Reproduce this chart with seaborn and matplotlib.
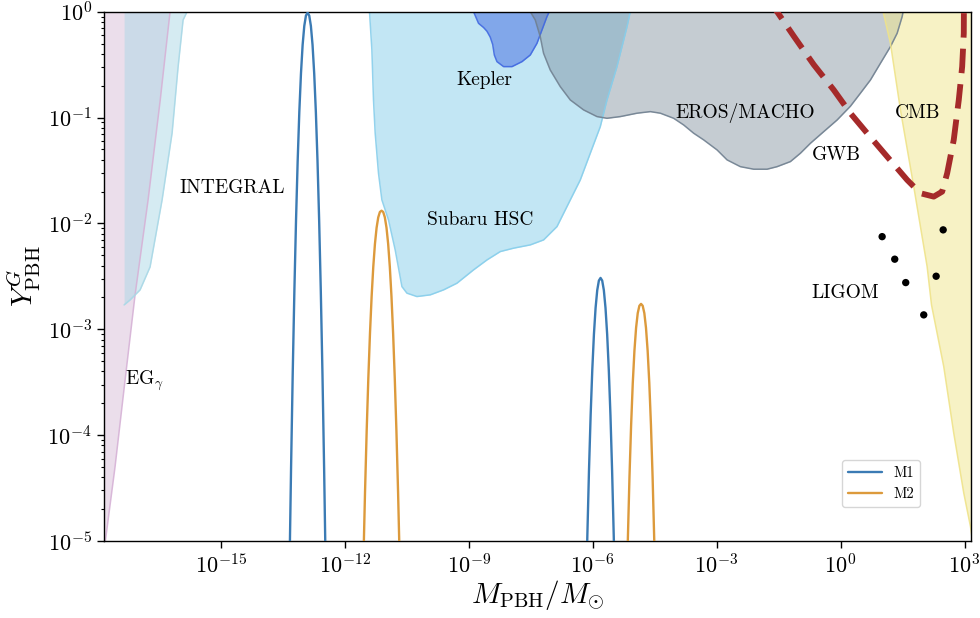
import numpy as np
import pandas as pd
import matplotlib
matplotlib.use("Agg")
import matplotlib.pyplot as plt
from matplotlib import ticker
import seaborn as sns

# ------------------------------------------------------------------
# Data (log10 values)
# ------------------------------------------------------------------
# M1 mass function, first peak
m1_a_logM = [-13.34, -13.30, -13.26, -13.22, -13.18, -13.14, -13.10, -13.06, -13.02, -12.98, -12.94,
             -12.90,
             -12.86, -12.82, -12.78, -12.74, -12.70, -12.66, -12.62, -12.58, -12.54, -12.50, -12.46]
m1_a_logY = [-5.32, -4.312, -3.421, -2.643, -1.974, -1.409, -0.946, -0.583, -0.314, -0.135, -0.037,
             -0.01,
             -0.037, -0.135, -0.314, -0.583, -0.946, -1.409, -1.974, -2.643, -3.421, -4.312, -5.32]
# M1 mass function, second peak
m1_b_logM = [-6.17, -6.13, -6.09, -6.05, -6.01, -5.97, -5.93, -5.89, -5.85,
             -5.81,
             -5.77, -5.73, -5.69, -5.65, -5.61, -5.57, -5.53, -5.49, -5.45]
m1_b_logY = [-5.683, -4.960, -4.339, -3.814, -3.385, -3.047, -2.798, -2.631, -2.540,
             -2.515,
             -2.540, -2.631, -2.798, -3.047, -3.385, -3.814, -4.339, -4.960, -5.683]
# M2 mass function, first peak
m2_a_logM = [-11.55, -11.51, -11.47, -11.43, -11.39, -11.35, -11.31, -11.27, -11.23, -11.19, -11.15,
             -11.11,
             -11.07, -11.03, -10.99, -10.95, -10.91, -10.87, -10.83, -10.79, -10.75, -10.71, -10.67]
m2_a_logY = [-5.201, -4.540, -3.961, -3.463, -3.039, -2.689, -2.409, -2.194, -2.041, -1.943, -1.892,
             -1.88,
             -1.892, -1.943, -2.041, -2.194, -2.409, -2.689, -3.039, -3.463, -3.961, -4.540, -5.201]
# M2 mass function, second peak
m2_b_logM = [-5.19, -5.15, -5.11, -5.07, -5.03, -4.99, -4.95, -4.91, -4.87,
             -4.83,
             -4.79, -4.75, -4.71, -4.67, -4.63, -4.59, -4.55, -4.51, -4.47]
m2_b_logY = [-5.702, -4.997, -4.398, -3.904, -3.508, -3.204, -2.987, -2.848, -2.778,
             -2.76,
             -2.778, -2.848, -2.987, -3.204, -3.508, -3.904, -4.398, -4.997, -5.702]

# Constraint boundaries (excluded region lies above each curve)
eg_logM = [-18.3, -17.794, -17.56, -17.317, -17.075, -16.76, -16.466, -16.228, -16.05]
eg_logY = [-6.5, -5.0, -4.30, -3.48, -2.675, -1.778, -0.834, 0.0, 0.6]

integral_logM = [-17.341, -17.196, -16.954, -16.712, -16.421, -16.179, -16.034, -15.913, -15.816, -15.75]
integral_logY = [-2.770, -2.723, -2.628, -2.411, -1.778, -1.146, -0.522, -0.078, 0.0, 0.3]

subaru_logM = [-11.42, -11.402, -11.344, -11.305, -11.264, -11.184, -11.102, -10.942, -10.780, -10.617,
               -10.496, -10.254, -9.932, -9.610, -9.286, -8.884, -8.559, -8.237, -7.915, -7.511,
               -7.189, -6.864, -6.542, -6.300, -6.058, -5.816, -5.654, -5.412, -5.169, -5.090, -5.06]
subaru_logY = [0.2, 0.0, -0.362, -0.834, -1.148, -1.526, -1.778, -1.967, -2.250, -2.597,
               -2.659, -2.691, -2.675, -2.628, -2.565, -2.439, -2.345, -2.266, -2.234, -2.203,
               -2.156, -2.030, -1.778, -1.589, -1.337, -1.086, -0.834, -0.519, -0.142, 0.0, 0.2]

kepler_logM = [-8.90, -8.884, -8.763, -8.640, -8.559, -8.480, -8.420, -8.380, -8.317, -8.157, -7.954,
               -7.712, -7.511, -7.349, -7.228, -7.107, -7.051, -7.03]
kepler_logY = [0.2, 0.0, -0.110, -0.150, -0.185, -0.240, -0.310, -0.410, -0.472, -0.519, -0.519,
               -0.472, -0.409, -0.299, -0.173, -0.047, 0.0, 0.2]

eros_logM = [-7.56, -7.511, -7.390, -7.269, -7.189, -7.027, -6.785, -6.542, -6.220, -5.896, -5.654,
             -5.332, -4.927, -4.605, -4.363, -4.041, -3.799, -3.557, -3.315, -2.990, -2.748,
             -2.426, -2.104, -1.780, -1.538, -1.215, -0.973, -0.731, -0.409, -0.085, 0.237,
             0.479, 0.722, 0.964, 1.206, 1.368, 1.489, 1.513, 1.53]
eros_logY = [0.2, 0.0, -0.078, -0.236, -0.393, -0.551, -0.708, -0.834, -0.928, -0.991, -1.007,
             -0.991, -0.959, -0.944, -0.959, -1.007, -1.070, -1.148, -1.211, -1.306, -1.400,
             -1.464, -1.488, -1.488, -1.464, -1.416, -1.337, -1.243, -1.133, -1.023, -0.893,
             -0.770, -0.645, -0.487, -0.330, -0.204, -0.047, 0.0, 0.2]

cmb_logM = [0.97, 1.029, 1.206, 1.448, 1.770, 2.094, 2.200, 2.496, 2.738, 2.981, 3.143, 3.40]
cmb_logY = [0.2, 0.0, -0.299, -0.928, -1.652, -2.408, -2.770, -3.352, -3.981, -4.548, -4.863, -5.60]

gwb_logM = [-1.83, -1.538, -1.136, -0.651, -0.167, 0.237, 0.642, 1.126, 1.610, 1.932, 2.254,
            2.458, 2.579, 2.738, 2.860, 2.942, 2.981, 2.985]
gwb_logY = [0.15, 0.0, -0.230, -0.500, -0.739, -0.959, -1.148, -1.369, -1.589, -1.715, -1.747,
            -1.700, -1.526, -1.211, -0.834, -0.519, -0.204, 0.15]

ligo_logM = [1.005, 1.310, 1.576, 2.012, 2.482, 2.312]
ligo_logY = [-2.125, -2.338, -2.559, -2.864, -2.061, -2.499]

region_labels = ["INTEGRAL", "Kepler", "Subaru HSC", "EROS/MACHO", "GWB", "CMB", "LIGOM"]
label_logM = [-14.714, -8.625, -8.722, -2.317, -0.102, 1.860, 0.116]
label_logY = [-1.709, -0.693, -2.014, -1.004, -1.400, -1.007, -2.706]
eg_label = r"EG$_\gamma$"
eg_label_logM, eg_label_logY = -17.315, -3.525

x_tick_exponents = [-15, -12, -9, -6, -3, 0, 3]
y_tick_exponents = [-5, -4, -3, -2, -1, 0]

# ------------------------------------------------------------------
# Style
# ------------------------------------------------------------------
sns.set_style("ticks")
plt.rcParams.update({
    "font.family": "cmr10",
    "mathtext.fontset": "cm",
    "axes.formatter.use_mathtext": True,
    "axes.edgecolor": "black",
    "axes.linewidth": 1.0,
    "xtick.color": "black",
    "ytick.color": "black",
    "text.color": "black",
    "axes.labelcolor": "black",
    "xtick.direction": "out",
    "ytick.direction": "out",
})

fig = plt.figure(figsize=(9.8, 6.18), dpi=100)
ax = fig.add_axes([0.106, 0.1246, 0.885, 0.8565])
ax.set_xscale("log")
ax.set_yscale("log")

p = lambda v: np.power(10.0, np.asarray(v, dtype=float))

# constraint regions
regions = [
    (eg_logM, eg_logY, "thistle", 0.5, "#d6b2d6"),
    (integral_logM, integral_logY, "lightblue", 0.5, "#a9d8e6"),
    (subaru_logM, subaru_logY, "skyblue", 0.5, "#87ceeb"),
    (kepler_logM, kepler_logY, "royalblue", 0.5, "royalblue"),
    (eros_logM, eros_logY, "slategray", 0.4, "slategray"),
    (cmb_logM, cmb_logY, "khaki", 0.5, "#efe38a"),
]
for lm, ly, col, a, ecol in regions:
    ax.fill_between(p(lm), p(ly), 1e3, color=col, alpha=a, lw=0, zorder=1)
    ax.plot(p(lm), p(ly), color=ecol, lw=1.1, alpha=0.9, zorder=1.5)

# mass functions
rows = []
for series, unit, lm, ly in [("M1", "a", m1_a_logM, m1_a_logY), ("M1", "b", m1_b_logM, m1_b_logY),
                             ("M2", "a", m2_a_logM, m2_a_logY), ("M2", "b", m2_b_logM, m2_b_logY)]:
    for xm, yv in zip(lm, ly):
        rows.append({"series": series, "unit": series + unit, "M": 10.0 ** xm, "Y": 10.0 ** yv})
df = pd.DataFrame(rows)
sns.lineplot(data=df, x="M", y="Y", hue="series", units="unit", estimator=None, sort=False,
             palette={"M1": "#3b7bb4", "M2": "#dc9a3c"}, linewidth=1.7, ax=ax, zorder=3)

# GWB dashed line
ax.plot(p(gwb_logM), p(gwb_logY), color="#a52a2a", lw=4.2, ls=(0, (4.2, 1.9)), zorder=4,
        dash_capstyle="butt")

# LIGO-like points
sns.scatterplot(x=p(ligo_logM), y=p(ligo_logY), color="black", s=28, edgecolor="none",
                ax=ax, zorder=5, legend=False)

# labels
for txt, lx, ly in zip(region_labels, label_logM, label_logY):
    ax.text(10 ** lx, 10 ** ly, txt, fontsize=14, ha="center", va="baseline", zorder=6)
ax.text(10 ** eg_label_logM, 10 ** eg_label_logY, eg_label, fontsize=14, ha="left", va="baseline", zorder=6)

# axes
ax.set_xlim(10 ** -17.83, 10 ** 3.16)
ax.set_ylim(1e-5, 1.0)
ax.xaxis.set_major_locator(ticker.FixedLocator([10.0 ** e for e in x_tick_exponents]))
ax.xaxis.set_major_formatter(ticker.LogFormatterSciNotation())
ax.xaxis.set_minor_locator(ticker.NullLocator())
ax.yaxis.set_major_locator(ticker.FixedLocator([10.0 ** e for e in y_tick_exponents]))
ax.yaxis.set_major_formatter(ticker.LogFormatterSciNotation())
ax.yaxis.set_minor_locator(ticker.LogLocator(base=10, subs=np.arange(2, 10)))
ax.tick_params(axis="both", which="major", labelsize=16, length=5, width=1.0)
ax.tick_params(axis="y", which="minor", length=2.5, width=0.8)
for s in ax.spines.values():
    s.set_visible(True)
    s.set_color("black")

ax.set_xlabel(r"$M_{\rm PBH}/M_{\odot}$", fontsize=21, labelpad=1)
ax.set_ylabel(r"$Y^{G}_{\rm PBH}$", fontsize=21, labelpad=3)

handles, labels = ax.get_legend_handles_labels()
keep = [(h, l) for h, l in zip(handles, labels) if l in ("M1", "M2")]
leg = ax.legend([h for h, _ in keep], [l for _, l in keep], loc="lower right",
                bbox_to_anchor=(0.941, 0.065), borderaxespad=0, fontsize=10.5,
                frameon=True, fancybox=True, framealpha=0.8, edgecolor="#cccccc",
                handlelength=2.3)

fig.savefig("out.png", dpi=100)
